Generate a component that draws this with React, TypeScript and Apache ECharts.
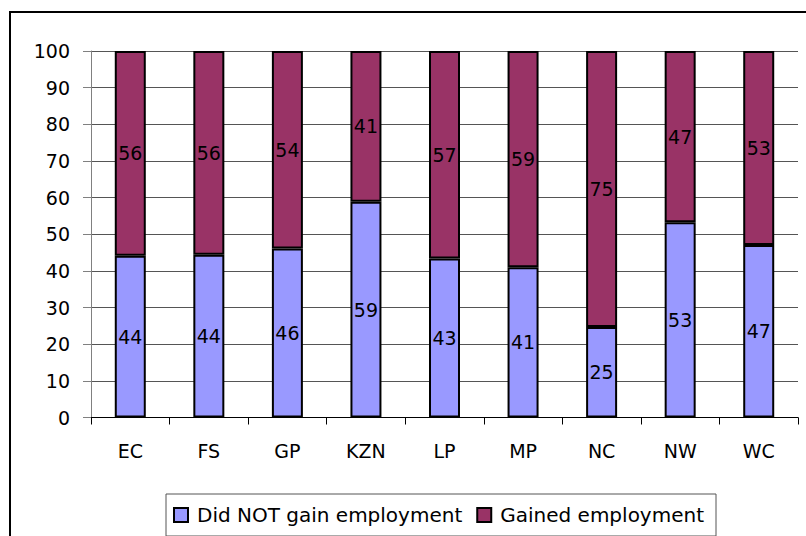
import React, { useEffect, useRef } from "react";
import * as echarts from "echarts";

const categories = ["EC", "FS", "GP", "KZN", "LP", "MP", "NC", "NW", "WC"];
const didNotGain = [44.1, 44.4, 46.1, 58.9, 43.4, 41.0, 24.7, 53.3, 47.1];
const gained = [55.9, 55.6, 53.9, 41.1, 56.6, 59.0, 75.3, 46.7, 52.9];
const seriesNames = ["Did NOT gain employment", "Gained employment"];
const colors = ["#9999FF", "#993366"];

const FONT = "DejaVu Sans";

export default function App() {
  const ref = useRef<HTMLDivElement>(null);
  useEffect(() => {
    if (!ref.current) return;
    const chart = echarts.init(ref.current, null, { renderer: "svg" });
    const labelCfg = {
      show: true,
      position: "inside",
      color: "#000",
      fontFamily: FONT,
      fontSize: 19,
      formatter: (p: any) => String(Math.round(p.value)),
    };
    chart.setOption({
      animation: false,
      backgroundColor: "#fff",
      grid: { left: 91, right: 8, top: 51, bottom: 118.5, containLabel: false },
      graphic: [
        {
          type: "rect",
          shape: { x: 10, y: 12, width: 900, height: 600 },
          style: { fill: "none", stroke: "#000", lineWidth: 2 },
          silent: true,
        },
      ],
      legend: {
        data: seriesNames,
        left: 166,
        top: 494,
        orient: "horizontal",
        padding: [11, 12, 11, 7],
        itemGap: 14,
        itemWidth: 14,
        itemHeight: 14,
        borderColor: "#555",
        borderWidth: 1,
        icon: "rect",
        textStyle: {
          fontFamily: FONT,
          fontSize: 20,
          color: "#000",
          padding: [0, 0, 0, 4],
        },
      },
      xAxis: {
        type: "category",
        data: categories,
        axisLine: { show: true, lineStyle: { color: "#000", width: 1 } },
        axisTick: { show: true, length: 7, lineStyle: { color: "#000" } },
        axisLabel: { color: "#000", fontFamily: FONT, fontSize: 19, margin: 24 },
        splitLine: { show: false },
      },
      yAxis: {
        type: "value",
        min: 0,
        max: 100,
        interval: 10,
        axisLine: { show: true, lineStyle: { color: "#808080", width: 1 } },
        axisTick: { show: true, length: 8, lineStyle: { color: "#808080" } },
        axisLabel: { color: "#000", fontFamily: FONT, fontSize: 19, margin: 21 },
        splitLine: { show: true, lineStyle: { color: "#555", width: 1 } },
      },
      series: [
        {
          name: seriesNames[0],
          type: "bar",
          stack: "total",
          data: didNotGain,
          barWidth: 31,
          itemStyle: { color: colors[0], borderColor: "#000", borderWidth: 2 },
          label: labelCfg,
        },
        {
          name: seriesNames[1],
          type: "bar",
          stack: "total",
          data: gained,
          barWidth: 31,
          itemStyle: { color: colors[1], borderColor: "#000", borderWidth: 2 },
          label: labelCfg,
        },
      ],
    });
    return () => chart.dispose();
  }, []);
  return (
    <div
      ref={ref}
      style={{ position: "absolute", left: 0, top: 0, width: 806, height: 536 }}
    />
  );
}
